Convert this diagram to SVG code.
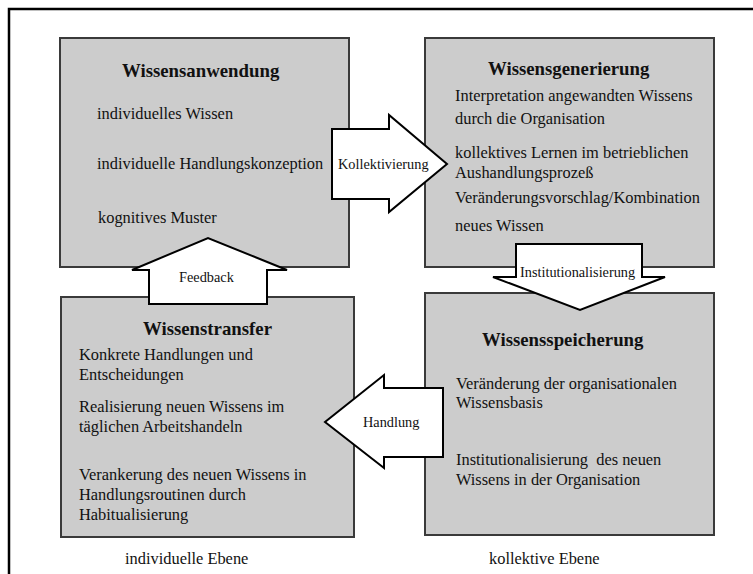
<svg xmlns="http://www.w3.org/2000/svg" width="753" height="574" viewBox="0 0 753 574">
<style>
.box{fill:#cccccc;stroke:#3a3a3a;stroke-width:2}
.arr{fill:#ffffff;stroke:#000000;stroke-width:2;stroke-linejoin:miter}
text{font-family:"Liberation Serif","Times New Roman",serif;fill:#111111}
.t{font-size:18.8px;font-weight:bold}
.b{font-size:16.4px}
.a{font-size:14.3px}
</style>
<rect x="0" y="0" width="753" height="574" fill="#ffffff"/>
<rect x="9" y="9" width="800" height="600" fill="none" stroke="#000000" stroke-width="2.5"/>
<g id="wissensanwendung">
<rect class="box" x="60" y="38" width="289" height="229"/>
<text class="t" x="122" y="77">Wissensanwendung</text>
<text class="b" x="97" y="119">individuelles Wissen</text>
<text class="b" x="97" y="169">individuelle Handlungskonzeption</text>
<text class="b" x="98" y="223">kognitives Muster</text>
</g>
<g id="wissensgenerierung">
<rect class="box" x="425" y="38" width="289" height="229"/>
<text class="t" x="488" y="75">Wissensgenerierung</text>
<text class="b" x="455" y="101">Interpretation angewandten Wissens</text>
<text class="b" x="455" y="124">durch die Organisation</text>
<text class="b" x="455" y="158">kollektives Lernen im betrieblichen</text>
<text class="b" x="455" y="178">Aushandlungsprozeß</text>
<text class="b" x="455" y="203">Veränderungsvorschlag/Kombination</text>
<text class="b" x="455" y="231">neues Wissen</text>
</g>
<g id="wissenstransfer">
<rect class="box" x="61" y="297" width="293" height="240"/>
<text class="t" x="143" y="335">Wissenstransfer</text>
<text class="b" x="79" y="360">Konkrete Handlungen und</text>
<text class="b" x="79" y="380">Entscheidungen</text>
<text class="b" x="79" y="412">Realisierung neuen Wissens im</text>
<text class="b" x="79" y="432">täglichen Arbeitshandeln</text>
<text class="b" x="79" y="480">Verankerung des neuen Wissens in</text>
<text class="b" x="79" y="500">Handlungsroutinen durch</text>
<text class="b" x="79" y="520">Habitualisierung</text>
</g>
<g id="wissensspeicherung">
<rect class="box" x="425" y="293" width="289" height="242"/>
<text class="t" x="482" y="346">Wissensspeicherung</text>
<text class="b" x="456" y="389">Veränderung der organisationalen</text>
<text class="b" x="456" y="408">Wissensbasis</text>
<text class="b" x="456" y="465" xml:space="preserve">Institutionalisierung  des neuen</text>
<text class="b" x="456" y="485">Wissens in der Organisation</text>
</g>
<g id="connectors">
<g id="kollektivierung">
<polygon class="arr" points="332,129 389,129 389,115 447,164 389,212 389,199 332,199"/>
<text class="a" x="338" y="169">Kollektivierung</text>
</g>
<g id="institutionalisierung">
<polygon class="arr" points="516,244 642,244 642,277 665,277 580,310 493,277 516,277"/>
<text class="a" x="520" y="277">Institutionalisierung</text>
</g>
<g id="handlung">
<polygon class="arr" points="443,388 443,457 384,457 384,468 325,422 384,375 384,388"/>
<text class="a" x="363" y="427">Handlung</text>
</g>
<g id="feedback">
<polygon class="arr" points="149,304 267,304 267,270 287,270 208,238 132,270 149,270"/>
<text class="a" x="179" y="282">Feedback</text>
</g>
</g>
<text class="b" x="125" y="564">individuelle Ebene</text>
<text class="b" x="489" y="564">kollektive Ebene</text>
</svg>
